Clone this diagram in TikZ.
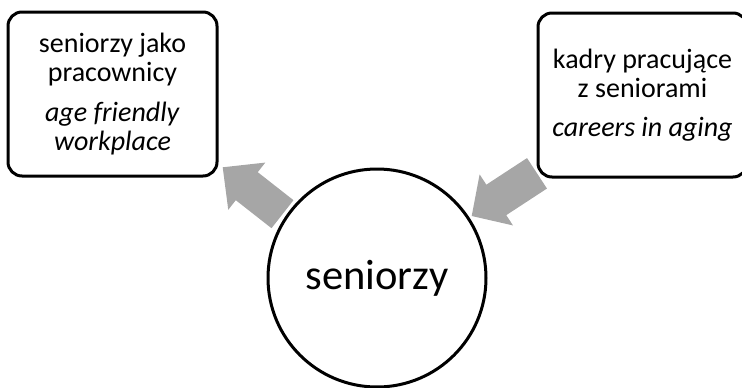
\documentclass[tikz,border=0pt]{standalone}
\usepackage{fontspec}
\setmainfont{Carlito}
\usetikzlibrary{calc}
\definecolor{arrowgray}{HTML}{A6A6A6}
\tikzset{
 box/.style={draw, line width=3pt, rounded corners=14pt, fill=white, minimum width=209pt, minimum height=164pt, align=center, inner sep=0pt, font=\fontsize{28}{29}\selectfont},
 hub/.style={draw, circle, line width=3pt, fill=white, minimum size=218pt, inner sep=0pt, font=\fontsize{42.5}{48}\selectfont},
 blockarrow/.style={fill=arrowgray},
}
\newcommand{\blockarr}[5]{%
  \coordinate (hb) at ($(#2)!#5!(#1)$);
  \fill[blockarrow] ($(#1)!#3!90:(#2)$) -- ($(hb)!#3!-90:(#1)$) -- ($(hb)!#4!-90:(#1)$) -- (#2) -- ($(hb)!#4!90:(#1)$) -- ($(hb)!#3!90:(#1)$) -- ($(#1)!#3!-90:(#2)$) -- cycle;}
\begin{document}
\begin{tikzpicture}[x=1pt,y=-1pt]
\useasboundingbox (0,0) rectangle (742,388);
\clip (0,0) rectangle (742,388);
\coordinate (lt) at (282.5,214.2);
\coordinate (lh) at (222.7,167.3);
\coordinate (rt) at (537,173.3);
\coordinate (rh) at (471.7,216);
\blockarr{lt}{lh}{17.8pt}{30pt}{30.6pt}
\blockarr{rt}{rh}{18.2pt}{30.5pt}{29.4pt}
\node[box] (workers) at (112.5,94) {seniorzy jako\\pracownicy\\[11pt]\textit{age friendly}\\\textit{workplace}};
\node[box] (staff) at (642.5,95) {kadry pracujące\\z seniorami\\[10pt]\textit{careers in aging}};
\node[hub] (seniors) at (377,278) {seniorzy};
\end{tikzpicture}
\end{document}
